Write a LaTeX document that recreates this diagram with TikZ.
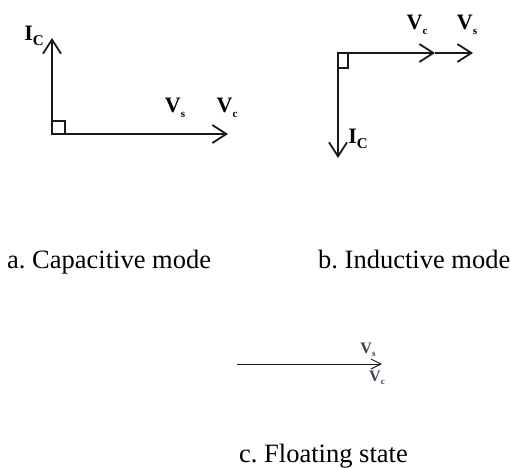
\documentclass[tikz,border=0pt]{standalone}
\usepackage{fontspec}
\setmainfont{Liberation Serif}
\usetikzlibrary{arrows.meta}
\definecolor{phasorLine}{HTML}{1A1A1A}
\definecolor{floatLab}{HTML}{3A3F55}

% phasor label: bold letter with a small lowered index
\newcommand{\phlab}[3][11]{\textbf{#2}\raisebox{-0.45ex}{\fontsize{#1}{#1}\selectfont\bfseries #3}}

\begin{document}
\begin{tikzpicture}[
  x=1pt, y=-1pt,
  vec/.style={draw=phasorLine, line width=2pt, -{Straight Barb[length=14pt, width=18pt, line width=1.8pt]}},
  thin vec/.style={draw=phasorLine, line width=1pt, -{Straight Barb[length=10pt, width=10pt, line width=1pt]}},
  corner/.style={draw=phasorLine, line width=1.5pt},
  vlab/.style={font=\fontsize{22}{22}\selectfont, inner sep=0pt},
  flab/.style={font=\fontsize{16}{16}\selectfont, text=floatLab, inner sep=0pt},
  caption/.style={font=\fontsize{26.5}{30}\selectfont, anchor=base west, inner sep=0pt}
]
\useasboundingbox (0,0) rectangle (511,468);

% =========================================================
% a. CAPACITIVE MODE
% =========================================================

\coordinate (aO) at (52,134);
\coordinate (aI) at (52,38);
\coordinate (aV) at (228,134);

\draw[vec] (aO) -- (aI);
\draw[vec] (aO) -- (aV);
\draw[corner] (aO) rectangle ++(13,-13);

\node[vlab] (aIcLab) at (34,36) {\phlab[15]{I}{C}};
\node[vlab] (aVsLab) at (175,108) {\phlab{V}{s}};
\node[vlab] (aVcLab) at (227,108) {\phlab{V}{c}};

\node[caption] (aCap) at (7,268) {a.\ Capacitive mode};

% =========================================================
% b. INDUCTIVE MODE
% =========================================================

\coordinate (bO) at (338,53);
\coordinate (bVc) at (435,53);
\coordinate (bVs) at (473,53);
\coordinate (bI) at (338,158);

\draw[vec] (bO) -- (bVc);
\draw[vec] (bVc) -- (bVs);
\draw[vec] (bO) -- (bI);
\draw[corner] (bO) rectangle ++(10,15);

\node[vlab] (bVcLab) at (417,25) {\phlab{V}{c}};
\node[vlab] (bVsLab) at (467,25) {\phlab{V}{s}};
\node[vlab] (bIcLab) at (358,139) {\phlab[15]{I}{C}};

\node[caption] (bCap) at (318,268) {b.\ Inductive mode};

% =========================================================
% c. FLOATING STATE
% =========================================================

\coordinate (cO) at (237,364);
\coordinate (cV) at (382,364);

\draw[thin vec] (cO) -- (cV);

\node[flab] (cVsLab) at (368,350) {\phlab[9]{V}{s}};
\node[flab] (cVcLab) at (377,378) {\phlab[9]{V}{c}};

\node[caption] (cCap) at (239,462) {c.\ Floating state};

\end{tikzpicture}
\end{document}
